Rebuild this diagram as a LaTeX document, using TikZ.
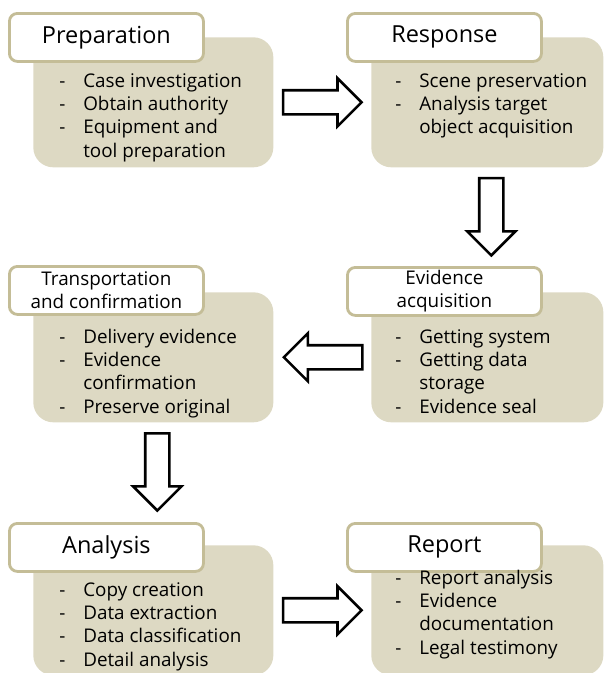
\documentclass[tikz,border=0pt]{standalone}
\usepackage{fontspec}
\setmainfont{Open Sans}
\usetikzlibrary{shapes.arrows,calc}
\definecolor{khaki}{RGB}{221,217,195}
\definecolor{tanline}{RGB}{196,189,151}

\begin{document}
\begin{tikzpicture}[x=0.025cm,y=-0.025cm]
		\tikzstyle{every node}=[font=\fontsize{13.4pt}{16.5pt}\selectfont]
		\tikzstyle{stagebody}=[fill=khaki, rounded corners=0.5cm, anchor=north west, minimum height=3.25cm, inner sep=0]
		\tikzstyle{stagetitle}=[draw=tanline, line width=2pt, fill=white, rounded corners=0.2cm, anchor=north west, minimum width=4.85cm, minimum height=1.2cm, inner sep=0, align=center]
		\tikzstyle{bigtitle}=[font=\fontsize{16.7pt}{20pt}\selectfont]
		\tikzstyle{stagelist}=[anchor=north west, inner sep=0]
		\tikzstyle{blockarrow}=[single arrow, draw, line width=1.8pt, fill=white, inner sep=0.27cm, minimum height=1.96cm, single arrow head extend=0.3cm]
		\useasboundingbox (0,0) rectangle (604,673);
		% first row
		\node [stagebody, minimum width=6cm] (prepbody) at (33,37) {};
		\node [stagetitle, bigtitle] (preptitle) at (8,12) {Preparation};
		\node [stagelist] (preplist) at (59,71) {\begin{tabular}{@{}p{0.6cm}@{}l@{}}
			- & Case investigation\\
			- & Obtain authority\\
			- & Equipment and\\
			  & tool preparation
		\end{tabular}};
		\node [stagebody, minimum width=5.8cm] (respbody) at (371,37) {};
		\node [stagetitle, bigtitle] (resptitle) at (346,12) {Response};
		\node [stagelist] (resplist) at (395,71) {\begin{tabular}{@{}p{0.6cm}@{}l@{}}
			- & Scene preservation\\
			- & Analysis target\\
			  & object acquisition
		\end{tabular}};
		% second row
		\node [stagebody, minimum width=6cm] (transbody) at (33,292) {};
		\node [stagetitle] (transtitle) at (8,265) {Transportation\\and confirmation};
		\node [stagelist] (translist) at (59,327) {\begin{tabular}{@{}p{0.6cm}@{}l@{}}
			- & Delivery evidence\\
			- & Evidence\\
			  & confirmation\\
			- & Preserve original
		\end{tabular}};
		\node [stagebody, minimum width=5.8cm] (evbody) at (371,292) {};
		\node [stagetitle] (evtitle) at (346,266) {Evidence\\acquisition};
		\node [stagelist] (evlist) at (395,327) {\begin{tabular}{@{}p{0.6cm}@{}l@{}}
			- & Getting system\\
			- & Getting data\\
			  & storage\\
			- & Evidence seal
		\end{tabular}};
		% third row
		\node [stagebody, minimum width=6cm] (anbody) at (33,545) {};
		\node [stagetitle, bigtitle] (antitle) at (8,522) {Analysis};
		\node [stagelist] (anlist) at (59,580) {\begin{tabular}{@{}p{0.6cm}@{}l@{}}
			- & Copy creation\\
			- & Data extraction\\
			- & Data classification\\
			- & Detail analysis
		\end{tabular}};
		\node [stagebody, minimum width=5.8cm] (repbody) at (371,545) {};
		\node [stagetitle, bigtitle] (reptitle) at (346,522) {Report};
		\node [stagelist] (replist) at (395,568) {\begin{tabular}{@{}p{0.6cm}@{}l@{}}
			- & Report analysis\\
			- & Evidence\\
			  & documentation\\
			- & Legal testimony
		\end{tabular}};
		% arrows
		\node [blockarrow, xshift=-0.15cm] (preptoresp) at ($(prepbody.east)!0.5!(respbody.west)$) {};
		\node [blockarrow, shape border rotate=270, minimum height=1.93cm, xshift=0.1cm, yshift=0.15cm] (resptoev) at ($(respbody.south)!0.5!(evtitle.north -| respbody.south)$) {};
		\node [blockarrow, shape border rotate=180, xshift=0.17cm] (evtotrans) at ($(evbody.west)!0.5!(transbody.east)$) {};
		\node [blockarrow, shape border rotate=270, minimum height=1.93cm, xshift=0.1cm, yshift=0.16cm] (transtoan) at ($(transbody.south)!0.5!(antitle.north -| transbody.south)$) {};
		\node [blockarrow, xshift=-0.15cm] (antorep) at ($(anbody.east)!0.5!(repbody.west)$) {};
	\end{tikzpicture}
\end{document}
